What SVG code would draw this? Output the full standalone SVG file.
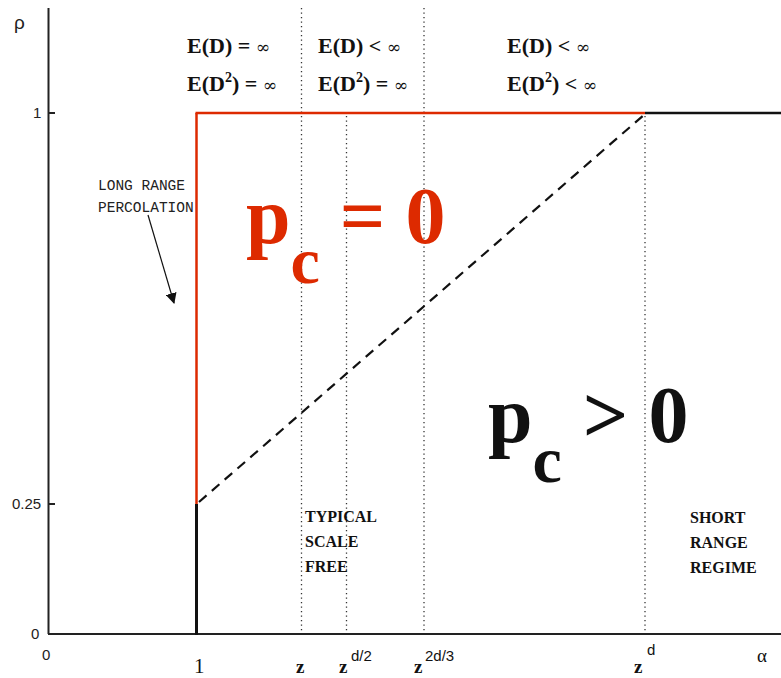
<svg xmlns="http://www.w3.org/2000/svg" width="781" height="678" viewBox="0 0 781 678">
<style>
.ax{stroke:#222;stroke-width:2;fill:none}
.tick{font-family:"Liberation Sans",Arial,sans-serif;font-size:15px;fill:#222}
.dot{stroke:#333;stroke-width:1.3;stroke-dasharray:1.3,3.2;fill:none}
.ed{font-family:"Liberation Serif","Times New Roman",serif;font-weight:bold;font-size:22px;fill:#111}
.inf{font-family:"DejaVu Serif",serif;font-weight:normal;font-size:17px}
.sup{font-size:14px}
.big{font-family:"Liberation Serif","Times New Roman",serif;font-weight:bold;font-size:80px}
.sub{font-size:66px}
.lab{font-family:"Liberation Serif","Times New Roman",serif;font-weight:bold;font-size:16px;fill:#111}
.mono{font-family:"Liberation Mono","Courier New",monospace;font-size:14.5px;fill:#222}
.xl{font-family:"Liberation Serif","Times New Roman",serif;font-weight:bold;font-size:19px;fill:#111}
.xs{font-family:"Liberation Sans",Arial,sans-serif;font-size:15px;fill:#111}
</style>
<defs>
<marker id="ah" viewBox="0 0 10 10" refX="9" refY="5" markerWidth="11" markerHeight="11" orient="auto" markerUnits="userSpaceOnUse">
<path d="M0,0 L10,5 L0,10 Z" fill="#111"/>
</marker>
</defs>
<rect width="781" height="678" fill="#fff"/>
<g id="axes">
<line class="ax" x1="48.5" y1="8" x2="48.5" y2="634"/>
<line class="ax" x1="48" y1="634" x2="781" y2="634"/>
<line class="ax" x1="48" y1="113" x2="55" y2="113"/>
<line class="ax" x1="48" y1="504" x2="55" y2="504"/>
<text class="tick" x="14" y="29" style="font-size:19px">ρ</text>
<text class="tick" x="33" y="118">1</text>
<text class="tick" x="12" y="509">0.25</text>
<text class="tick" x="31" y="639">0</text>
<text class="tick" x="42" y="660">0</text>
</g>
<g id="guides">
<line class="dot" x1="301.5" y1="8" x2="301.5" y2="633"/>
<line class="dot" x1="346.5" y1="116" x2="346.5" y2="633"/>
<line class="dot" x1="424" y1="8" x2="424" y2="633"/>
<line class="dot" x1="645" y1="116" x2="645" y2="633"/>
</g>
<g id="connectors">
<line x1="196.5" y1="113" x2="196.5" y2="504" stroke="#dd2a00" stroke-width="2.5"/>
<line x1="196.5" y1="504" x2="196.5" y2="635" stroke="#111" stroke-width="3"/>
<line x1="195.5" y1="113" x2="645" y2="113" stroke="#dd2a00" stroke-width="2.5"/>
<line x1="645" y1="113" x2="781" y2="113" stroke="#111" stroke-width="2.5"/>
<line x1="199" y1="502" x2="645" y2="114" stroke="#111" stroke-width="2.2" stroke-dasharray="10,7"/>
<line x1="148" y1="215" x2="174" y2="303" stroke="#111" stroke-width="1.2" marker-end="url(#ah)"/>
</g>
<g id="moments">
<text class="ed" x="187" y="53">E(D) = <tspan class="inf">∞</tspan></text>
<text class="ed" x="187" y="91">E(D<tspan class="sup" dy="-9">2</tspan><tspan dy="9">) = </tspan><tspan class="inf">∞</tspan></text>
<text class="ed" x="318" y="53">E(D) &lt; <tspan class="inf">∞</tspan></text>
<text class="ed" x="318" y="91">E(D<tspan class="sup" dy="-9">2</tspan><tspan dy="9">) = </tspan><tspan class="inf">∞</tspan></text>
<text class="ed" x="507" y="53">E(D) &lt; <tspan class="inf">∞</tspan></text>
<text class="ed" x="507" y="91">E(D<tspan class="sup" dy="-9">2</tspan><tspan dy="9">) &lt; </tspan><tspan class="inf">∞</tspan></text>
</g>
<g id="pc0">
<text class="big" x="246" y="243" fill="#dd2a00">p<tspan class="sub" dy="40">c</tspan><tspan dy="-40" dx="20">= 0</tspan></text>
</g>
<g id="pcpos">
<text class="big" x="488" y="442" fill="#111">p<tspan class="sub" dy="40">c</tspan><tspan dy="-40" dx="21">&gt; 0</tspan></text>
</g>
<g id="longrange">
<text class="mono" x="98" y="190">LONG RANGE</text>
<text class="mono" x="98" y="212">PERCOLATION</text>
</g>
<g id="typical">
<text class="lab" x="305" y="522">TYPICAL</text>
<text class="lab" x="305" y="547">SCALE</text>
<text class="lab" x="305" y="572">FREE</text>
</g>
<g id="shortrange">
<text class="lab" x="690" y="523">SHORT</text>
<text class="lab" x="690" y="548">RANGE</text>
<text class="lab" x="690" y="573">REGIME</text>
</g>
<g id="xlabels">
<text class="xl" x="194" y="673" style="font-weight:normal;font-size:21px">1</text>
<text class="xl" x="296" y="673">z</text>
<text class="xl" x="339" y="673">z</text><text class="xs" x="351" y="661">d/2</text>
<text class="xl" x="414" y="673">z</text><text class="xs" x="425" y="661">2d/3</text>
<text class="xl" x="634" y="673">z</text><text class="xs" x="647" y="655">d</text>
<text class="xs" x="757" y="662" style="font-family:'Liberation Serif',serif;font-size:19px">α</text>
</g>
</svg>
